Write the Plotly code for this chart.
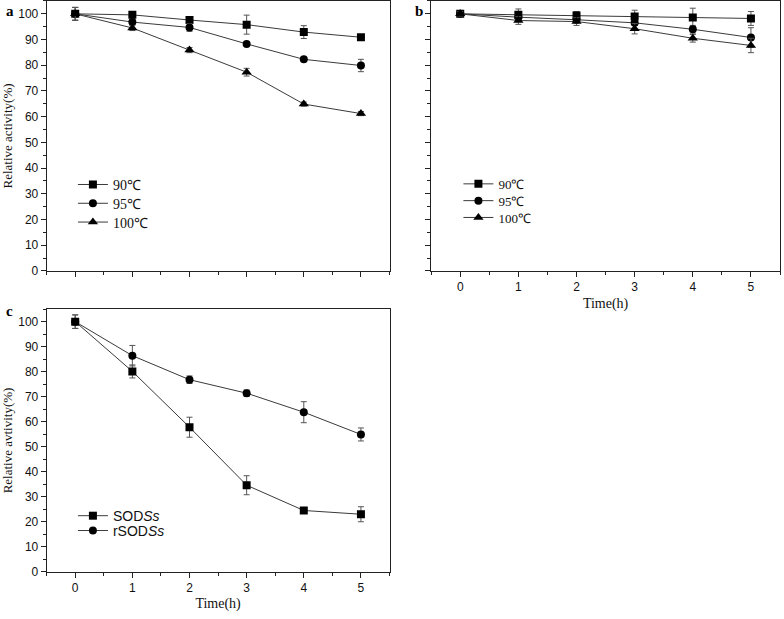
import plotly.graph_objects as go

time_h = [0, 1, 2, 3, 4, 5]

# Panel a
a_90 = [100, 99.6, 97.6, 95.8, 92.9, 90.9]
a_90_err = [2.5, 0.5, 0.6, 3.7, 2.5, 0.5]
a_95 = [100, 96.8, 94.7, 88.3, 82.3, 79.9]
a_95_err = [2.5, 0.8, 1.5, 0.6, 0.6, 2.4]
a_100 = [100, 94.5, 85.9, 77.3, 64.9, 61.2]
a_100_err = [2.5, 1.0, 1.0, 1.5, 0.8, 0.8]

# Panel b
b_90 = [100, 99.6, 99.4, 99.0, 98.6, 98.2]
b_90_err = [0.8, 2.3, 1.5, 2.4, 3.6, 2.7]
b_95 = [100, 98.7, 97.7, 96.5, 94.0, 90.8]
b_95_err = [0.8, 1.0, 1.0, 1.0, 1.5, 3.8]
b_100 = [100, 97.4, 97.0, 94.2, 90.5, 87.7]
b_100_err = [0.8, 1.5, 1.5, 2.0, 1.5, 2.8]

# Panel c
c_sod = [100, 80.1, 57.8, 34.6, 24.5, 23.0]
c_sod_err = [2.7, 2.6, 4.0, 3.8, 0.7, 3.0]
c_rsod = [100, 86.4, 76.8, 71.4, 63.8, 54.9]
c_rsod_err = [2.7, 4.1, 1.5, 1.3, 4.2, 2.6]

temp_labels = ["90℃", "95℃", "100℃"]
c_labels = ["SOD<i>Ss</i>", "rSOD<i>Ss</i>"]
symbols = ["square", "circle", "triangle-up"]

LINE_C = "#3a3a3a"
ERR_C = "#555555"
SERIF = "Liberation Serif, Times New Roman, serif"
SANS = "Liberation Sans, Arial, sans-serif"

W, H = 784, 619
def px_x(p):
    return p / W
def px_y(p):
    return 1 - p / H

fig = go.Figure()
legends = {}
leg_counter = [0]

def add(x, y, err, name, sym, xa, ya, lx, ly, font):
    leg_counter[0] += 1
    key = "legend" if leg_counter[0] == 1 else f"legend{leg_counter[0]}"
    fig.add_trace(go.Scatter(
        x=x, y=y, name=name, mode="lines+markers",
        line=dict(color=LINE_C, width=1),
        marker=dict(symbol=sym, size=8 if sym != "triangle-up" else 9, color="black"),
        error_y=dict(type="data", array=err, visible=True, color=ERR_C, thickness=1, width=3),
        xaxis=xa, yaxis=ya, legend=key,
    ))
    legends[key] = dict(x=px_x(lx), y=px_y(ly), xanchor="left", yanchor="middle",
                        bgcolor="rgba(0,0,0,0)", font=font, itemwidth=30)

font_a = dict(family=SERIF, size=14, color="#111")
font_b = dict(family=SERIF, size=13, color="#111")
font_c = dict(family=SANS, size=14, color="#111")

rows_a = [187, 206, 225]
rows_b = [186, 203, 220]
rows_c = [522, 537]

for vals, errs, lab, sym, ry in zip([a_90, a_95, a_100], [a_90_err, a_95_err, a_100_err], temp_labels, symbols, rows_a):
    add(time_h, vals, errs, lab, sym, "x", "y", 72, ry, font_a)
for vals, errs, lab, sym, ry in zip([b_90, b_95, b_100], [b_90_err, b_95_err, b_100_err], temp_labels, symbols, rows_b):
    add(time_h, vals, errs, lab, sym, "x2", "y2", 458, ry, font_b)
for vals, errs, lab, sym, ry in zip([c_sod, c_rsod], [c_sod_err, c_rsod_err], c_labels, symbols[:2], rows_c):
    add(time_h, vals, errs, lab, sym, "x3", "y3", 72, ry, font_c)

common_x = dict(range=[-0.5, 5.5], dtick=1, tick0=0, ticks="outside", ticklen=5, tickwidth=1,
                tickcolor="#222", showline=True, linecolor="#222", linewidth=1, mirror=True,
                showgrid=False, zeroline=False,
                minor=dict(ticks="outside", ticklen=3, dtick=0.5, tick0=0, tickcolor="#222", showgrid=False),
                tickfont=dict(family=SANS, size=12, color="#111"))
common_y = dict(range=[0, 105], dtick=10, tick0=0, ticks="outside", ticklen=5, tickwidth=1,
                tickcolor="#222", showline=True, linecolor="#222", linewidth=1, mirror=True,
                showgrid=False, zeroline=False,
                minor=dict(ticks="outside", ticklen=3, dtick=5, tick0=0, tickcolor="#222", showgrid=False),
                tickfont=dict(family=SANS, size=12, color="#111"))

ytitle_font = dict(family=SERIF, size=13, color="#111")
xtitle_font = dict(family=SERIF, size=14, color="#111")

fig.update_layout(
    width=W, height=H, margin=dict(l=0, r=0, t=0, b=0),
    paper_bgcolor="white", plot_bgcolor="white",
    xaxis=dict(common_x, domain=[px_x(45.7), px_x(389)], anchor="y", showticklabels=False),
    yaxis=dict(common_y, domain=[px_y(274), px_y(1)], anchor="x",
               title=dict(text="Relative activity(%)", font=ytitle_font, standoff=9)),
    xaxis2=dict(common_x, domain=[px_x(430.7), px_x(780)], anchor="y2",
                title=dict(text="Time(h)", font=xtitle_font, standoff=4)),
    yaxis2=dict(common_y, domain=[px_y(274), px_y(1)], anchor="x2", showticklabels=False),
    xaxis3=dict(common_x, domain=[px_x(45.7), px_x(389)], anchor="y3",
                title=dict(text="Time(h)", font=xtitle_font, standoff=4)),
    yaxis3=dict(common_y, domain=[px_y(578.3), px_y(312.7)], anchor="x3",
                title=dict(text="Relative avtivity(%)", font=ytitle_font, standoff=9)),
    showlegend=True,
    annotations=[
        dict(text="<b>a</b>", x=px_x(3), y=px_y(1), xref="paper", yref="paper", xanchor="left", yanchor="top",
             showarrow=False, font=dict(family=SERIF, size=15, color="black")),
        dict(text="<b>b</b>", x=px_x(413), y=px_y(1), xref="paper", yref="paper", xanchor="left", yanchor="top",
             showarrow=False, font=dict(family=SERIF, size=15, color="black")),
        dict(text="<b>c</b>", x=px_x(3), y=px_y(304), xref="paper", yref="paper", xanchor="left", yanchor="top",
             showarrow=False, font=dict(family=SERIF, size=15, color="black")),
    ],
)
fig.update_layout(**legends)

fig.write_html("out.html", config={"displayModeBar": False},
               post_script="document.body.style.margin='0';document.body.style.overflow='hidden';")
